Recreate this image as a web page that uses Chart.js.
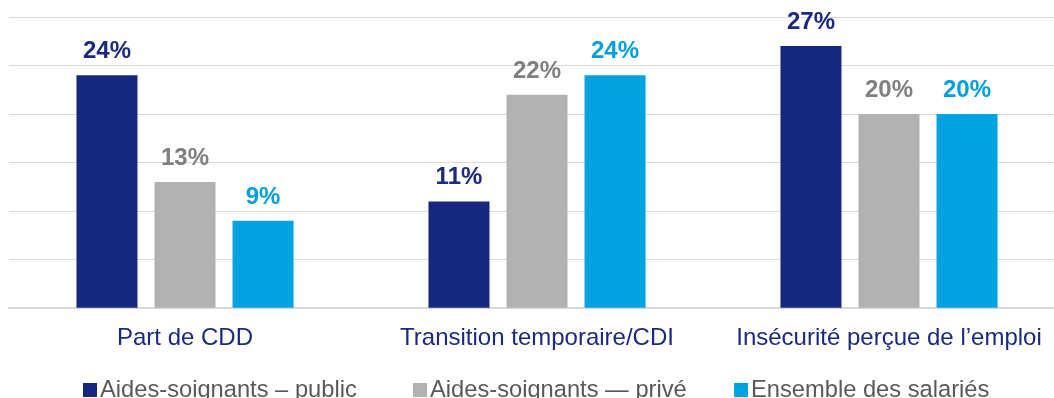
<!DOCTYPE html>
<html lang="fr">
<head>
<meta charset="utf-8">
<script src="https://cdn.jsdelivr.net/npm/chart.js@4/dist/chart.umd.min.js"></script>
<style>
  html, body { margin: 0; padding: 0; background: #fff; width: 1054px; height: 398px; overflow: hidden; }
  body { position: relative; font-family: "Liberation Sans", Arial, sans-serif; }
  .chart-wrap { position: absolute; left: 0; top: 0; width: 1074px; height: 380px; }
  .legend-item { position: absolute; top: 378px; font-size: 23.7px; line-height: 23px; color: #595959; white-space: nowrap; }
  .legend-item .sw { display: inline-block; width: 14px; height: 14px; margin-right: 3px; vertical-align: baseline; }
</style>
</head>
<body>
<div class="chart-wrap"><canvas id="c"></canvas></div>
<div id="legend"></div>
<script>
// Categories and values (%)
var categories = ['Part de CDD', 'Transition temporaire/CDI', 'Insécurité perçue de l’emploi'];
var seriesNames = ['Aides-soignants – public', 'Aides-soignants — privé', 'Ensemble des salariés'];
var publicVals = [24, 11, 27];
var priveVals = [13, 22, 20];
var ensembleVals = [9, 24, 20];

var barColors = ['#15287e', '#b2b2b2', '#00a2e0'];
var labelColors = ['#1b2a80', '#7f7f7f', '#00a0e0'];
var legendLeft = [83, 413, 734];

var FONT = '"Liberation Sans", Arial, sans-serif';

// value labels above bars
var barLabels = {
  id: 'barLabels',
  afterDatasetsDraw: function (chart) {
    var ctx = chart.ctx;
    ctx.save();
    ctx.font = 'bold 24px ' + FONT;
    ctx.textAlign = 'center';
    ctx.textBaseline = 'alphabetic';
    chart.data.datasets.forEach(function (ds, i) {
      var meta = chart.getDatasetMeta(i);
      ctx.fillStyle = labelColors[i];
      meta.data.forEach(function (bar, j) {
        ctx.fillText(ds.data[j] + '%', bar.x, bar.y - 17);
      });
    });
    ctx.restore();
  }
};

new Chart(document.getElementById('c'), {
  type: 'bar',
  data: {
    labels: categories,
    datasets: [
      { label: seriesNames[0], data: publicVals, backgroundColor: barColors[0] },
      { label: seriesNames[1], data: priveVals, backgroundColor: barColors[1] },
      { label: seriesNames[2], data: ensembleVals, backgroundColor: barColors[2] }
    ]
  },
  options: {
    responsive: true,
    maintainAspectRatio: false,
    animation: false,
    layout: { padding: { left: 9, right: 9, top: 17, bottom: 11 } },
    datasets: { bar: { categoryPercentage: 0.665, barPercentage: 0.782 } },
    scales: {
      x: {
        grid: { display: false, drawTicks: false },
        border: { display: true, color: '#d9d9d9', width: 2 },
        ticks: { color: '#1b2a80', font: { family: FONT, size: 24 }, padding: 16, maxRotation: 0 }
      },
      y: {
        min: 0, max: 30,
        ticks: { display: false, stepSize: 5 },
        grid: { color: '#d9d9d9', lineWidth: 1, drawTicks: false },
        border: { display: false }
      }
    },
    plugins: { legend: { display: false }, tooltip: { enabled: false } }
  },
  plugins: [barLabels]
});

// legend
var lg = document.getElementById('legend');
seriesNames.forEach(function (name, i) {
  var item = document.createElement('div');
  item.className = 'legend-item';
  item.style.left = legendLeft[i] + 'px';
  item.innerHTML = '<span class="sw" style="background:' + barColors[i] + '"></span>' + name;
  lg.appendChild(item);
});
</script>
</body>
</html>
